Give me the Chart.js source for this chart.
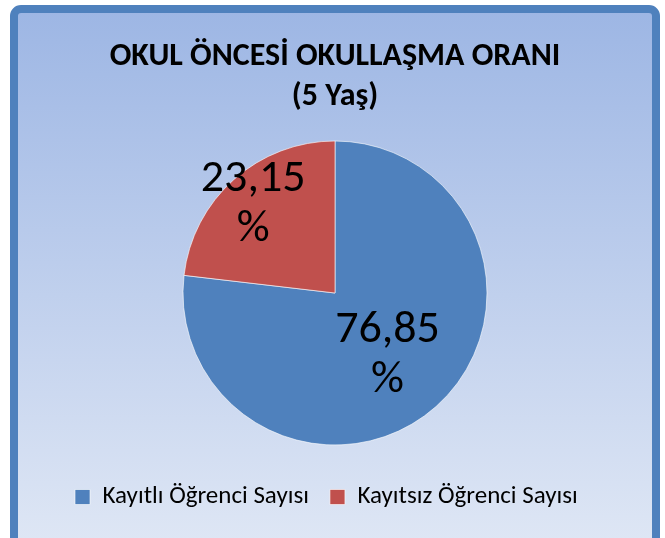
<!DOCTYPE html>
<html>
<head>
<meta charset="utf-8">
<script src="https://cdn.jsdelivr.net/npm/chart.js@4/dist/chart.umd.min.js"></script>
<style>
  html, body { margin: 0; padding: 0; background: #fff; }
  #wrap { width: 665px; height: 538px; }
</style>
</head>
<body>
<div id="wrap"><canvas id="okulChart" width="665" height="538"></canvas></div>
<script>
const categories = ['Kayıtlı Öğrenci Sayısı', 'Kayıtsız Öğrenci Sayısı'];
const values = [76.85, 23.15];
const sliceColors = ['#4f81bd', '#c0504d'];
const labelDistance = [0.52, 0.81];
const titleLines = ['OKUL ÖNCESİ OKULLAŞMA ORANI', '(5 Yaş)'];
const FONT = "Carlito, 'Open Sans', sans-serif";

const frame = {
    id: 'frame',
    beforeDraw(chart) {
        const c = chart.ctx;
        const x = 14, y = 9, w = 642, h = 540, r = 7;
        const g = c.createLinearGradient(0, y, 0, y + h);
        g.addColorStop(0, '#9db6e4');
        g.addColorStop(1, '#dfe7f5');
        c.save();
        c.beginPath();
        c.roundRect(x, y, w, h, r);
        c.fillStyle = g;
        c.fill();
        c.lineWidth = 8;
        c.strokeStyle = '#4f81bd';
        c.stroke();
        c.restore();
    }
};

const sliceLabels = {
    id: 'sliceLabels',
    afterDatasetsDraw(chart) {
        const c = chart.ctx;
        const meta = chart.getDatasetMeta(0);
        c.save();
        c.font = '46px ' + FONT;
        c.fillStyle = '#000';
        c.textAlign = 'center';
        c.textBaseline = 'middle';
        meta.data.forEach((arc, i) => {
            const p = arc.getProps(['x', 'y', 'startAngle', 'endAngle', 'outerRadius'], true);
            const mid = (p.startAngle + p.endAngle) / 2;
            const d = p.outerRadius * labelDistance[i];
            const lx = p.x + Math.cos(mid) * d;
            const ly = p.y + Math.sin(mid) * d;
            const txt = values[i].toFixed(2).replace('.', ',');
            c.fillText(txt, lx, ly - 22);
            c.fillText('%', lx, ly + 28);
        });
        c.restore();
    }
};

new Chart(document.getElementById('okulChart'), {
    type: 'pie',
    data: {
        labels: categories,
        datasets: [{
            data: values,
            backgroundColor: sliceColors,
            borderColor: 'rgba(255,255,255,0.6)',
            borderWidth: 1
        }]
    },
    options: {
        responsive: false,
        animation: false,
        radius: 152,
        layout: { padding: { top: 13, left: 54, right: 49, bottom: 18.5 } },
        plugins: {
            title: {
                display: true,
                text: titleLines,
                color: '#000',
                font: { family: FONT, size: 32, weight: 'bold', lineHeight: 40 / 32 },
                padding: { top: 24, bottom: 5.5 }
            },
            legend: {
                position: 'bottom',
                align: 'start',
                labels: {
                    color: '#000',
                    font: { family: FONT, size: 25 },
                    boxWidth: 15,
                    boxHeight: 15,
                    padding: 21
                }
            },
            tooltip: { enabled: false }
        }
    },
    plugins: [frame, sliceLabels]
});
</script>
</body>
</html>
